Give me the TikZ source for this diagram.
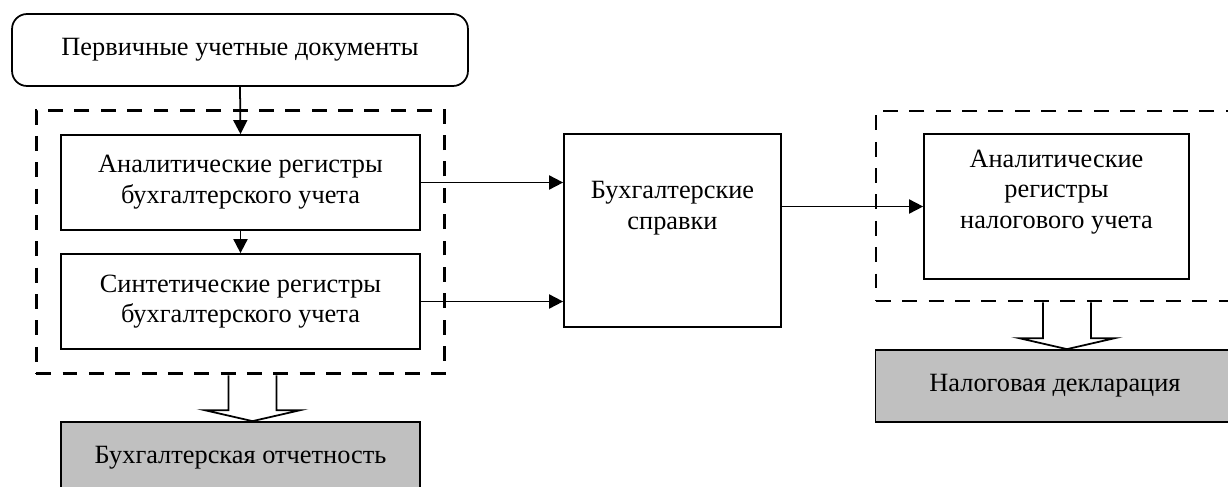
\documentclass[tikz,border=0pt]{standalone}
\usepackage{fontspec}
\setmainfont{Liberation Serif}
\usetikzlibrary{arrows.meta,fit,calc}

\definecolor{boxgray}{RGB}{192,192,192}

% Hollow block arrow from the bottom of #1 down to the top of #2
\newcommand{\hollowarrow}[2]{%
    \coordinate (ha2) at ([xshift=0.24cm]#2.north);
    \coordinate (ha1) at (ha2 |- #1.south);
    \draw[hollow] ($(ha1)+(-24,0)$) -- ($(ha2)+(-24,-11)$) -- ($(ha2)+(-48,-11)$)
        -- (ha2) -- ($(ha2)+(48,-11)$) -- ($(ha2)+(24,-11)$) -- ($(ha1)+(24,0)$);
}

\begin{document}
\begin{tikzpicture}[x=0.02cm, y=-0.02cm,
    font=\fontsize{15}{17.5}\selectfont,
    box/.style={draw, line width=1pt, minimum width=7.18cm, minimum height=1.9cm, align=center},
    graybox/.style={draw, line width=1pt, fill=boxgray, minimum width=7.18cm, minimum height=1.44cm},
    group/.style={draw, dashed, line width=1.6pt, dash pattern=on 8.5pt off 6.5pt, inner sep=0pt},
    arr/.style={-{Triangle[length=8pt, width=8pt]}, line width=1pt},
    hollow/.style={draw, fill=white, line width=1pt}]

    % Fix the size of the picture
    \useasboundingbox (0,0) rectangle (1228,487);

    % Primary documents at the top
    \node[draw, line width=1pt, rounded corners=0.3cm, minimum width=9.12cm, minimum height=1.44cm]
        (prim) at (240,50) {Первичные учетные документы};

    % Registers of the accounting
    \node[box] (anB) at (240.5,182.5) {Аналитические регистры\\бухгалтерского учета};
    \node[box] (sinB) at (240.5,301.5) {Синтетические регистры\\бухгалтерского учета};

    % Dashed frame round the accounting registers
    \node[group, inner sep=0.48cm, fit=(anB) (sinB)] (dashL) {};

    % Accounting statements
    \node[box, minimum width=4.34cm, minimum height=3.86cm] (sprav) at (672.5,230.5) {};
    \node[align=center] (sprText) at (672.5,208) {Бухгалтерские\\справки};

    % Tax registers and their dashed frame
    \node[box, minimum width=5.3cm, minimum height=2.9cm] (nal) at (1056.5,206.5) {};
    \node[align=center] (nalText) at (1056.5,192) {Аналитические\\регистры\\налогового учета};
    \node[group, fit={(876,111) (1240,301)}] (dashR) {};

    % Reports at the bottom
    \node[graybox] (accRep) at (240.5,458) {Бухгалтерская отчетность};
    \node[graybox] (taxDecl) at (1055,386) {Налоговая декларация};

    % Arrows
    \draw[arr] (prim.south) -- (anB.north);
    \draw[arr] (anB.south) -- (sinB.north);
    \draw[arr] (anB.east) -- (anB.east -| sprav.west);
    \draw[arr] (sinB.east) -- (sinB.east -| sprav.west);
    \draw[arr] (nal.west -| sprav.east) -- (nal.west);

    % Hollow arrows to the reports
    \hollowarrow{dashL}{accRep}
    \hollowarrow{dashR}{taxDecl}

\end{tikzpicture}
\end{document}
